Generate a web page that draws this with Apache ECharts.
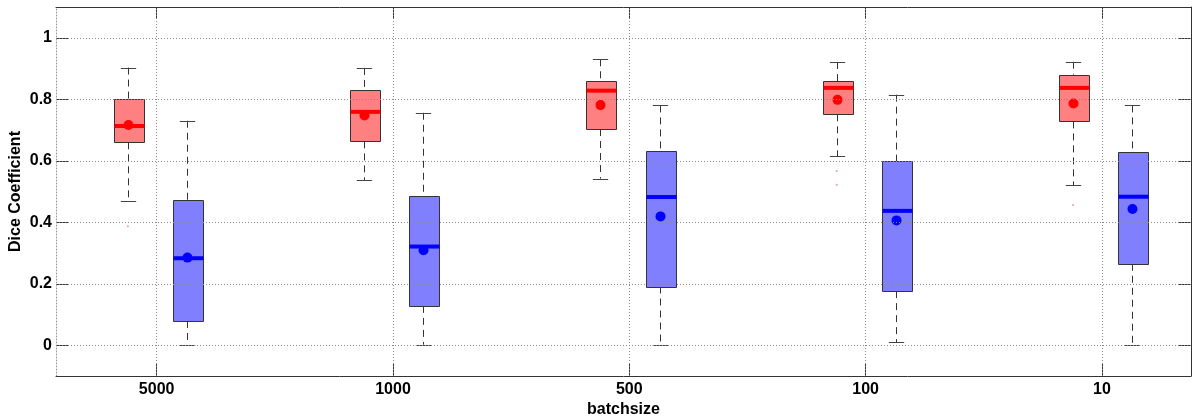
<!DOCTYPE html>
<html><head><meta charset="utf-8">
<script src="https://cdn.jsdelivr.net/npm/echarts@6/dist/echarts.min.js"></script>
<style>html,body{margin:0;padding:0;background:#fff}#c{width:1198px;height:419px}</style>
</head><body><div id="c"></div>
<script>
const categories = ['5000', '1000', '500', '100', '10'];
const redMin    = [0.470, 0.537, 0.542, 0.615, 0.521];
const redQ1     = [0.660, 0.663, 0.703, 0.751, 0.728];
const redMedian = [0.713, 0.759, 0.828, 0.837, 0.837];
const redQ3     = [0.800, 0.830, 0.859, 0.859, 0.880];
const redMax    = [0.903, 0.902, 0.930, 0.921, 0.922];
const redMean   = [0.716, 0.747, 0.781, 0.798, 0.786];
const blueMin    = [0.002, 0.002, 0.002, 0.010, 0.002];
const blueQ1     = [0.079, 0.128, 0.191, 0.176, 0.265];
const blueMedian = [0.283, 0.321, 0.482, 0.437, 0.483];
const blueQ3     = [0.473, 0.485, 0.632, 0.598, 0.627];
const blueMax    = [0.730, 0.756, 0.780, 0.815, 0.780];
const blueMean   = [0.285, 0.309, 0.419, 0.406, 0.443];
// outliers: [category position (1-based), value]
const redOutliers = [[1, 0.387], [4, 0.567], [4, 0.522], [5, 0.456]];
const yTicks = [0, 0.2, 0.4, 0.6, 0.8, 1];
const yTickLabels = ['0', '0.2', '0.4', '0.6', '0.8', '1'];

const xTicks = categories.map((c, i) => i + 1);
const FONT = 'Liberation Sans, Arial, sans-serif';
const BOX_W = 0.125;
const RED_OFF = -0.122, BLUE_OFF = 0.128;

function buildData(mn, q1, md, q3, mx, mean) {
  return categories.map((c, i) => [i + 1, mn[i], q1[i], md[i], q3[i], mx[i], mean[i]]);
}

function makeRender(offset, fill, accent) {
  return function (params, api) {
    const xc = api.value(0) + offset;
    const pMin = api.coord([xc, api.value(1)]);
    const pQ1 = api.coord([xc, api.value(2)]);
    const pMed = api.coord([xc, api.value(3)]);
    const pQ3 = api.coord([xc, api.value(4)]);
    const pMax = api.coord([xc, api.value(5)]);
    const pMean = api.coord([xc, api.value(6)]);
    const w = api.size([BOX_W, 0])[0];
    const cx = Math.round(pQ1[0]) + 0.5;
    const left = Math.round(cx - w / 2) + 0.5;
    const right = left + Math.round(w);
    const capHalf = w * 0.26;
    const wl = { stroke: '#333', lineWidth: 1, lineDash: [7, 5] };
    const cap = { stroke: '#444', lineWidth: 1 };
    const ry = v => Math.round(v) + 0.5;
    return {
      type: 'group',
      children: [
        { type: 'line', shape: { x1: cx, y1: pMax[1], x2: cx, y2: pQ3[1] }, style: wl },
        { type: 'line', shape: { x1: cx, y1: pQ1[1], x2: cx, y2: pMin[1] }, style: wl },
        { type: 'line', shape: { x1: cx - capHalf, y1: ry(pMax[1]), x2: cx + capHalf, y2: ry(pMax[1]) }, style: cap },
        { type: 'line', shape: { x1: cx - capHalf, y1: ry(pMin[1]), x2: cx + capHalf, y2: ry(pMin[1]) }, style: cap },
        { type: 'rect', shape: { x: left, y: ry(pQ3[1]), width: right - left, height: ry(pQ1[1]) - ry(pQ3[1]) },
          style: { fill: fill, stroke: '#333', lineWidth: 1 } },
        { type: 'line', shape: { x1: left, y1: pMed[1], x2: right, y2: pMed[1] }, style: { stroke: accent, lineWidth: 4 } },
        { type: 'circle', shape: { cx: cx, cy: pMean[1], r: 5 }, style: { fill: accent } }
      ]
    };
  };
}

const labelStyle = { fontFamily: FONT, fontWeight: 'bold', fontSize: 16, color: '#000' };
const gridLine = { type: [1, 2], color: '#8a8a8a', width: 1 };

const chart = echarts.init(document.getElementById('c'));
chart.setOption({
  animation: false,
  backgroundColor: '#fff',
  grid: { left: 56, right: 7, top: 7, bottom: 43, containLabel: false, outerBoundsMode: 'none' },
  xAxis: [
    {
      type: 'value', min: 0.574, max: 5.377, position: 'bottom',
      axisLine: { show: true, onZero: false, lineStyle: { color: '#333', width: 1 } },
      axisTick: { show: true, inside: true, length: 12, customValues: xTicks, lineStyle: { color: '#333' } },
      axisLabel: Object.assign({ customValues: xTicks, margin: 6,
        formatter: v => categories[Math.round(v) - 1] }, labelStyle),
      splitLine: { show: false },
      name: 'batchsize', nameLocation: 'middle', nameGap: 26, nameMoveOverlap: false,
      nameTextStyle: labelStyle
    },
    {
      type: 'value', min: 0.574, max: 5.377, position: 'top',
      axisLine: { show: true, onZero: false, lineStyle: { color: '#333', width: 1 } },
      axisTick: { show: true, inside: true, length: 12, customValues: xTicks, lineStyle: { color: '#333' } },
      axisLabel: { show: false },
      splitLine: { show: false }
    }
  ],
  yAxis: [
    {
      type: 'value', min: -0.1, max: 1.1, position: 'left',
      axisLine: { show: true, onZero: false, lineStyle: { color: '#999', type: [1, 2], width: 1 } },
      axisTick: { show: true, inside: true, length: 12, customValues: yTicks, lineStyle: { color: '#333' } },
      axisLabel: Object.assign({ customValues: yTicks, margin: 4,
        formatter: v => yTickLabels[yTicks.findIndex(t => Math.abs(t - v) < 1e-6)] }, labelStyle),
      splitLine: { show: false },
      name: 'Dice Coefficient', nameLocation: 'middle', nameGap: 32, nameRotate: 90, nameMoveOverlap: false,
      nameTextStyle: labelStyle
    },
    {
      type: 'value', min: -0.1, max: 1.1, position: 'right',
      axisLine: { show: true, onZero: false, lineStyle: { color: '#333', width: 1 } },
      axisTick: { show: true, inside: true, length: 12, customValues: yTicks, lineStyle: { color: '#333' } },
      axisLabel: { show: false },
      splitLine: { show: false }
    }
  ],
  series: [
    {
      type: 'scatter', xAxisIndex: 0, yAxisIndex: 0, z: 1,
      data: redOutliers.map(p => [p[0] + RED_OFF, p[1]]),
      symbolSize: 2, itemStyle: { color: '#f08080' }, silent: true,
      markLine: {
        silent: true, symbol: ['none', 'none'], label: { show: false },
        lineStyle: gridLine, emphasis: { disabled: true },
        data: yTicks.map(v => ({ yAxis: v })).concat(xTicks.map(v => ({ xAxis: v })))
      }
    },
    {
      type: 'custom', name: 'red', xAxisIndex: 0, yAxisIndex: 0, z: 3,
      renderItem: makeRender(RED_OFF, '#ff8080', '#ff0000'),
      encode: { x: 0, y: [1, 2, 3, 4, 5, 6] },
      data: buildData(redMin, redQ1, redMedian, redQ3, redMax, redMean)
    },
    {
      type: 'custom', name: 'blue', xAxisIndex: 0, yAxisIndex: 0, z: 3,
      renderItem: makeRender(BLUE_OFF, '#8080ff', '#0000ff'),
      encode: { x: 0, y: [1, 2, 3, 4, 5, 6] },
      data: buildData(blueMin, blueQ1, blueMedian, blueQ3, blueMax, blueMean)
    }
  ]
});
</script>
</body></html>
